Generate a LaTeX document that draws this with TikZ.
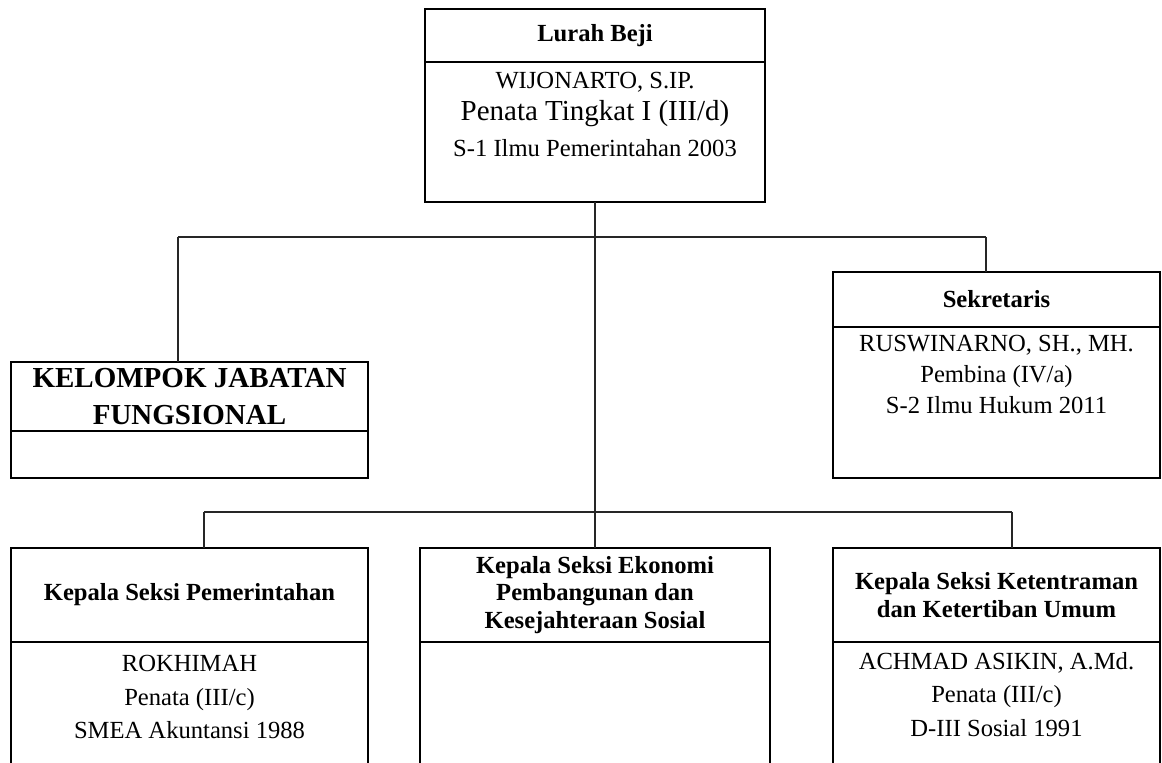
\documentclass[tikz,border=0pt]{standalone}
\usepackage{fontspec}
\setmainfont{Liberation Serif}
\usetikzlibrary{positioning}

\begin{document}
\begin{tikzpicture}[
  head/.style={rectangle, draw=black, line width=1.4pt, outer sep=0pt, inner sep=0pt,
               align=center, font=\fontsize{14}{15.5}\selectfont\bfseries},
  body/.style={rectangle, draw=black, line width=1.4pt, outer sep=0pt, inner sep=0pt},
  info/.style={align=center, inner sep=0pt, font=\fontsize{14}{17.5}\selectfont},
  link/.style={draw=black!85, line width=0.6pt}
]
  \useasboundingbox (0,0) rectangle (23.24,-15.24);

  \node[head, minimum width=6.8cm, minimum height=1.06cm] (lurah) at (11.9,-0.71) {Lurah Beji};
  \node[body, minimum width=6.8cm, minimum height=2.8cm, below=0pt of lurah] (lurahB) {};
  \node[info, below=0.2cm of lurahB.north] (lurahT)
    {WIJONARTO, S.IP.\\[0.5pt]{\fontsize{16.5}{18}\selectfont Penata Tingkat I (III/d)}\\[3pt]S-1 Ilmu Pemerintahan 2003};

  \node[head, minimum width=7.14cm, minimum height=1.38cm, font=\fontsize{16.5}{21.5}\selectfont\bfseries]
    (kjf) at (3.79,-7.93) {KELOMPOK JABATAN\\FUNGSIONAL};
  \node[body, minimum width=7.14cm, minimum height=0.94cm, below=0pt of kjf] (kjfB) {};

  \node[head, minimum width=6.54cm, minimum height=1.1cm] (sek) at (19.93,-5.99) {Sekretaris};
  \node[body, minimum width=6.54cm, minimum height=3.02cm, below=0pt of sek] (sekB) {};
  \node[info, below=0.16cm of sekB.north] (sekT)
    {RUSWINARNO, SH., MH.\\Pembina (IV/a)\\S-2 Ilmu Hukum 2011};

  \node[head, minimum width=7.14cm, minimum height=1.88cm] (pem) at (3.79,-11.9) {Kepala Seksi Pemerintahan};
  \node[body, minimum width=7.14cm, minimum height=2.66cm, below=0pt of pem] (pemB) {};
  \node[info, below=0.26cm of pemB.north, font=\fontsize{14}{19}\selectfont] (pemT)
    {ROKHIMAH\\Penata (III/c)\\SMEA Akuntansi 1988};

  \node[head, minimum width=7.0cm, minimum height=1.88cm] (eko) at (11.9,-11.9)
    {Kepala Seksi Ekonomi\\Pembangunan dan\\Kesejahteraan Sosial};
  \node[body, minimum width=7.0cm, minimum height=2.66cm, below=0pt of eko] (ekoB) {};

  \node[head, minimum width=6.54cm, minimum height=1.88cm] (tib) at (19.93,-11.9)
    {Kepala Seksi Ketentraman\\dan Ketertiban Umum};
  \node[body, minimum width=6.54cm, minimum height=2.66cm, below=0pt of tib] (tibB) {};
  \node[info, below=0.2cm of tibB.north, font=\fontsize{14}{19}\selectfont] (tibT)
    {ACHMAD ASIKIN, A.Md.\\Penata (III/c)\\D-III Sosial 1991};

  \coordinate (upL) at (3.56,-4.74);
  \coordinate (upR) at (19.72,-4.74);
  \coordinate (loL) at (4.08,-10.24);
  \coordinate (loR) at (20.24,-10.24);

  \draw[link] (lurahB.south) -- (eko.north);
  \draw[link] (upL) -- (upR);
  \draw[link] (upL) -- (upL |- kjf.north);
  \draw[link] (upR) -- (upR |- sek.north);
  \draw[link] (loL) -- (loR);
  \draw[link] (loL) -- (loL |- pem.north);
  \draw[link] (loR) -- (loR |- tib.north);
\end{tikzpicture}
\end{document}
